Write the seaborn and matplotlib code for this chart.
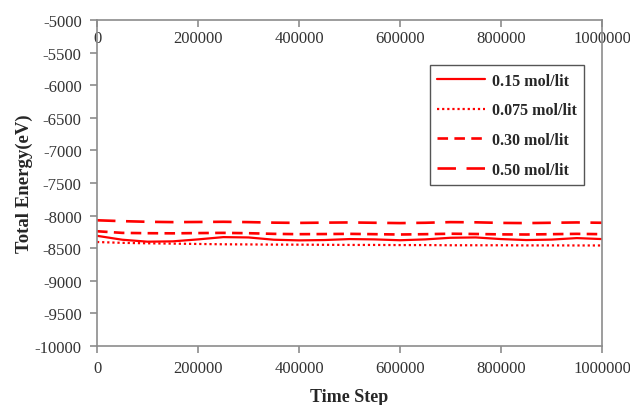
import numpy as np
import pandas as pd
import matplotlib
matplotlib.use("Agg")
import matplotlib.pyplot as plt
import seaborn as sns

# Simulation time steps
time_step = [0, 50000, 100000, 150000, 200000, 250000, 300000, 350000, 400000,
             450000, 500000, 550000, 600000, 650000, 700000, 750000, 800000,
             850000, 900000, 950000, 1000000]

# Total energy (eV) for each concentration
energy_015 = [-8310, -8370, -8400, -8395, -8365, -8330, -8335, -8370, -8380, -8375,
              -8360, -8365, -8378, -8365, -8340, -8335, -8360, -8375, -8368, -8345, -8360]
energy_0075 = [-8405, -8418, -8425, -8430, -8435, -8440, -8442, -8445, -8446, -8448,
               -8450, -8450, -8452, -8452, -8455, -8455, -8455, -8457, -8457, -8458, -8458]
energy_030 = [-8240, -8265, -8270, -8272, -8268, -8265, -8270, -8280, -8285, -8283,
              -8280, -8285, -8290, -8285, -8278, -8282, -8288, -8290, -8285, -8280, -8285]
energy_050 = [-8072, -8085, -8095, -8100, -8098, -8095, -8100, -8108, -8112, -8108,
              -8105, -8110, -8115, -8110, -8100, -8103, -8112, -8115, -8110, -8105, -8110]

labels = ["0.15 mol/lit", "0.075 mol/lit", "0.30 mol/lit", "0.50 mol/lit"]
x_ticks = [0, 200000, 400000, 600000, 800000, 1000000]
y_ticks = list(range(-10000, -4999, 500))

sns.set_style("white")
plt.rcParams["font.family"] = ["Liberation Serif", "DejaVu Serif"]

fig = plt.figure(figsize=(6.3, 4.06), dpi=100)
ax = fig.add_axes([97 / 630, 1 - 347 / 406, 505 / 630, 326 / 406])

series = [energy_015, energy_0075, energy_030, energy_050]
dash_styles = ["-", (0, (1, 1.3)), (0, (4, 2.4)), (0, (7, 4))]
widths = [1.6, 1.6, 1.9, 1.9]
for vals, lab, ls, lw in zip(series, labels, dash_styles, widths):
    df = pd.DataFrame({"Time Step": time_step, "Energy": vals})
    sns.lineplot(data=df, x="Time Step", y="Energy", ax=ax, color="#ff0000",
                 linestyle=ls, linewidth=lw, label=lab)

ax.set_xlim(0, 1000000)
ax.set_ylim(-10000, -5000)
ax.set_xticks(x_ticks)
ax.set_xticklabels([str(t) for t in x_ticks])
ax.set_yticks(y_ticks)
ax.set_yticklabels([str(t) for t in y_ticks])

for side in ["left", "right", "top", "bottom"]:
    ax.spines[side].set_color("#8c8c8c")
    ax.spines[side].set_linewidth(1.2)

ax.tick_params(axis="both", which="major", direction="out", length=5, width=1.2,
               color="#8c8c8c", labelsize=12, labelcolor="#333333",
               bottom=True, left=True, right=False, top=False)
ax.tick_params(axis="x", pad=5)
ax.tick_params(axis="y", pad=6)

# Mirrored time-step labels just inside the top spine
sec = ax.secondary_xaxis("top")
sec.set_xticks(x_ticks)
sec.set_xticklabels([str(t) for t in x_ticks])
sec.spines["top"].set_visible(False)
sec.tick_params(direction="in", length=5, width=1.2, color="#8c8c8c",
                labelsize=12, labelcolor="#333333", pad=-19)

ax.set_xlabel("Time Step", fontsize=13, fontweight="bold", labelpad=9)
ax.set_ylabel("Total Energy(eV)", fontsize=13.5, fontweight="bold", labelpad=1)

leg = ax.legend(loc="upper right", bbox_to_anchor=(0.964, 0.861), borderaxespad=0,
                frameon=True, fancybox=False, edgecolor="#555555", framealpha=1,
                prop={"weight": "bold", "size": 11.5}, handlelength=3.0,
                labelspacing=0.86, borderpad=0.45, handletextpad=0.4)
leg.get_frame().set_linewidth(1.0)

fig.savefig("out.png", dpi=100)
